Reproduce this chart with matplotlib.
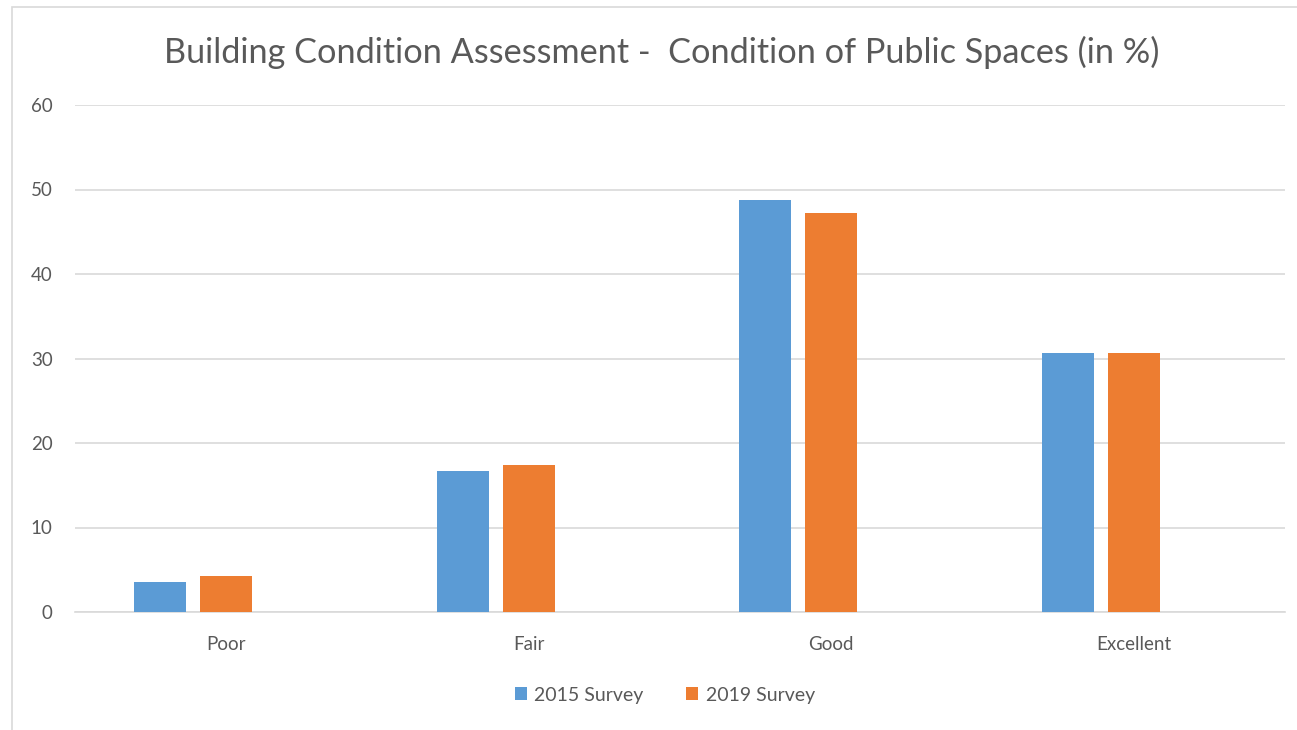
import matplotlib
matplotlib.use("Agg")
import matplotlib.pyplot as plt
from matplotlib.patches import Rectangle
import numpy as np

categories = ["Poor", "Fair", "Good", "Excellent"]
survey_2015 = [3.6, 16.7, 48.8, 30.6]
survey_2019 = [4.3, 17.4, 47.2, 30.6]
series_labels = ["2015 Survey", "2019 Survey"]
yticks = [0, 10, 20, 30, 40, 50, 60]

BLUE = "#5B9BD5"
ORANGE = "#ED7D31"
TEXT = "#595959"
GRID = "#D9D9D9"

plt.rcParams["font.family"] = ["Lato", "DejaVu Sans"]

fig = plt.figure(figsize=(12.97, 7.30), dpi=100)
# chart-area border like the Excel export
fig.patches.append(Rectangle((12 / 1297, -0.01), 1.2, 1 - 7 / 730 + 0.01,
                             transform=fig.transFigure, fill=False,
                             edgecolor=GRID, lw=1.2))
ax = fig.add_axes([75 / 1297, 1 - 612 / 730, (1285 - 75) / 1297, (612 - 105) / 730])

x = np.arange(len(categories))
w = 0.172
step = 0.218
ax.bar(x - step, survey_2015, width=w, color=BLUE, label=series_labels[0], zorder=3)
ax.bar(x, survey_2019, width=w, color=ORANGE, label=series_labels[1], zorder=3)

ax.set_xlim(-0.5, len(categories) - 0.5)
ax.set_ylim(0, 60)
ax.set_yticks(yticks)
ax.set_xticks(x)
ax.set_xticklabels(categories)
ax.yaxis.grid(True, color=GRID, lw=1.2, zorder=0)
for s in ["top", "right", "left"]:
    ax.spines[s].set_visible(False)
ax.spines["bottom"].set_color(GRID)
ax.spines["bottom"].set_linewidth(1.2)
ax.tick_params(length=0, colors=TEXT, labelsize=13.5)
ax.tick_params(axis="y", pad=16)
ax.tick_params(axis="x", pad=17)

fig.text(662 / 1297, 1 - 52 / 730, "Building Condition Assessment -  Condition of Public Spaces (in %)",
         ha="center", va="center", fontsize=24.7, color=TEXT)

leg = fig.legend(loc="center", bbox_to_anchor=(665 / 1297, 1 - 695 / 730), ncol=2,
                 frameon=False, fontsize=14, handlelength=0.6, handleheight=0.6,
                 handletextpad=0.4, columnspacing=2.2)
for t in leg.get_texts():
    t.set_color(TEXT)

fig.savefig("out.png", dpi=100)
